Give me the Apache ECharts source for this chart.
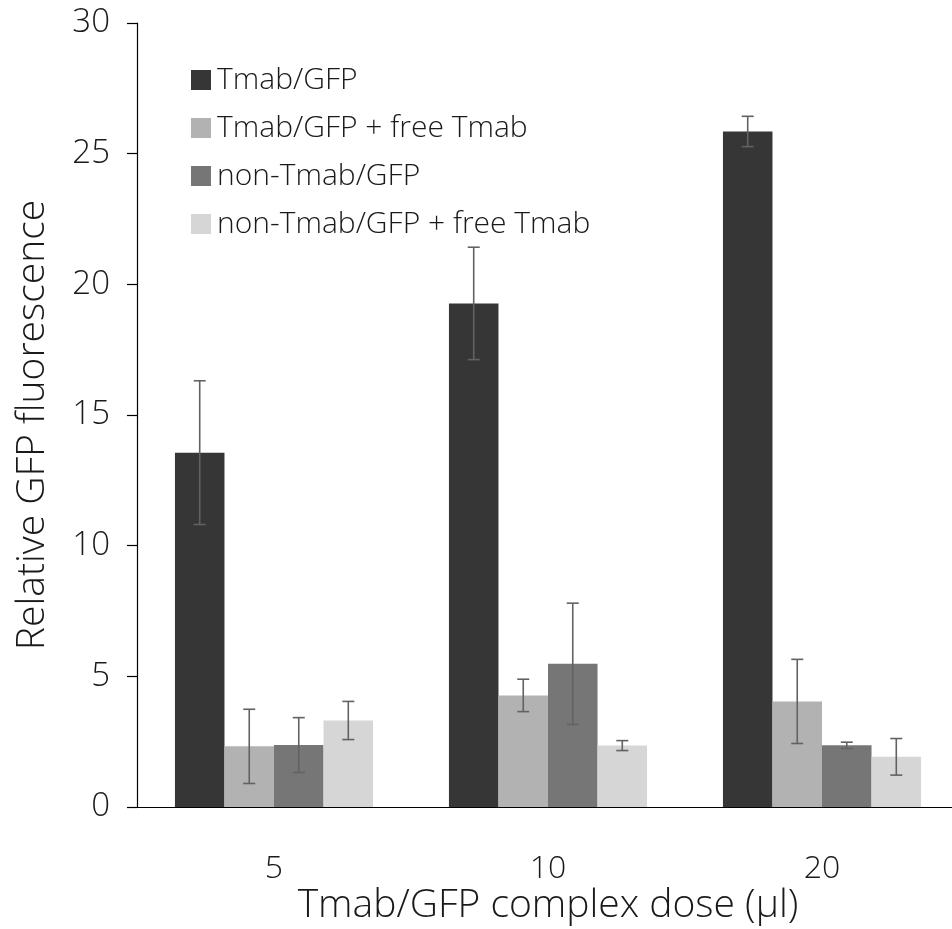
<!DOCTYPE html>
<html>
<head>
<meta charset="utf-8">
<script src="https://cdn.jsdelivr.net/npm/echarts@6/dist/echarts.min.js"></script>
<style>
html,body{margin:0;padding:0;background:#fff;}
#chart{width:952px;height:929px;}
</style>
</head>
<body>
<div id="chart"></div>
<script>
const categories = ['5', '10', '20'];
const seriesNames = ['Tmab/GFP', 'Tmab/GFP + free Tmab', 'non-Tmab/GFP', 'non-Tmab/GFP + free Tmab'];
const tmabGfp = [13.56, 19.27, 25.85];
const tmabGfpErr = [2.75, 2.15, 0.58];
const tmabGfpFree = [2.32, 4.27, 4.04];
const tmabGfpFreeErr = [1.42, 0.62, 1.61];
const nonTmabGfp = [2.37, 5.48, 2.36];
const nonTmabGfpErr = [1.05, 2.32, 0.12];
const nonTmabGfpFree = [3.31, 2.35, 1.92];
const nonTmabGfpFreeErr = [0.73, 0.19, 0.7];
const yTicks = [0, 5, 10, 15, 20, 25, 30];

const values = [tmabGfp, tmabGfpFree, nonTmabGfp, nonTmabGfpFree];
const errors = [tmabGfpErr, tmabGfpFreeErr, nonTmabGfpErr, nonTmabGfpFreeErr];
const colors = ['#363636', '#b2b2b2', '#767676', '#d6d6d6'];
const FONT = '"Open Sans", "Noto Sans", sans-serif';
const catGap = 0.277;

const chart = echarts.init(document.getElementById('chart'));

const barSeries = seriesNames.map((name, i) => ({
  name: name,
  type: 'bar',
  data: values[i],
  barGap: '0%',
  barCategoryGap: (catGap * 100) + '%',
  itemStyle: { color: colors[i] },
  emphasis: { disabled: true },
  z: 2
}));

const errSeries = seriesNames.map((name, i) => ({
  name: name + ' err',
  type: 'custom',
  data: values[i].map((v, k) => [k, v, errors[i][k]]),
  encode: { x: 0, y: 1 },
  z: 5,
  silent: true,
  renderItem: function (params, api) {
    const k = api.value(0);
    const v = api.value(1);
    const e = api.value(2);
    const catW = api.size([1, 0])[0];
    const bw = catW * (1 - catGap) / 4;
    const c = api.coord([k, v]);
    const x = c[0] + (i - 1.5) * bw;
    const top = api.coord([k, v + e])[1];
    const bot = api.coord([k, v - e])[1];
    const cap = 6;
    const st = { stroke: '#626262', lineWidth: 1.6 };
    return {
      type: 'group',
      children: [
        { type: 'line', shape: { x1: x, y1: top, x2: x, y2: bot }, style: st },
        { type: 'line', shape: { x1: x - cap, y1: top, x2: x + cap, y2: top }, style: st },
        { type: 'line', shape: { x1: x - cap, y1: bot, x2: x + cap, y2: bot }, style: st }
      ]
    };
  }
}));

chart.setOption({
  backgroundColor: '#ffffff',
  animation: false,
  textStyle: { fontFamily: FONT },
  grid: { left: 137, right: -7, top: 23, bottom: 122, containLabel: false, outerBoundsMode: 'none' },
  legend: {
    data: seriesNames,
    orient: 'vertical',
    left: 186,
    top: 60,
    itemWidth: 20,
    itemHeight: 20,
    itemGap: 18,
    icon: 'rect',
    textStyle: { fontSize: 30, fontWeight: 300, color: '#1a1a1a', fontFamily: FONT, padding: [0, 0, 0, 1] }
  },
  xAxis: {
    type: 'category',
    data: categories,
    axisLine: { lineStyle: { color: '#000', width: 1.2 } },
    axisTick: { show: false },
    axisLabel: { fontSize: 32, fontWeight: 300, color: '#1a1a1a', margin: 46, fontFamily: FONT },
    name: 'Tmab/GFP complex dose (µl)',
    nameLocation: 'middle',
    nameGap: 79,
    nameMoveOverlap: false,
    nameTextStyle: { fontSize: 39, fontWeight: 300, color: '#1a1a1a', fontFamily: FONT }
  },
  yAxis: {
    type: 'value',
    min: 0,
    max: 30,
    interval: 5,
    axisLine: { show: true, lineStyle: { color: '#000', width: 1.2 } },
    axisTick: { show: true, length: 10, lineStyle: { color: '#000', width: 1.2 } },
    splitLine: { show: false },
    axisLabel: {
      fontSize: 33, fontWeight: 300, color: '#1a1a1a', margin: 27, fontFamily: FONT,
      formatter: function (v) { return yTicks.indexOf(v) >= 0 ? String(v) : ''; }
    },
    name: 'Relative GFP fluorescence',
    nameLocation: 'middle',
    nameGap: 85,
    nameMoveOverlap: false,
    nameTextStyle: { fontSize: 39, fontWeight: 300, color: '#1a1a1a', fontFamily: FONT, padding: [0, 20, 0, 0] }
  },
  series: barSeries.concat(errSeries)
});
</script>
</body>
</html>
